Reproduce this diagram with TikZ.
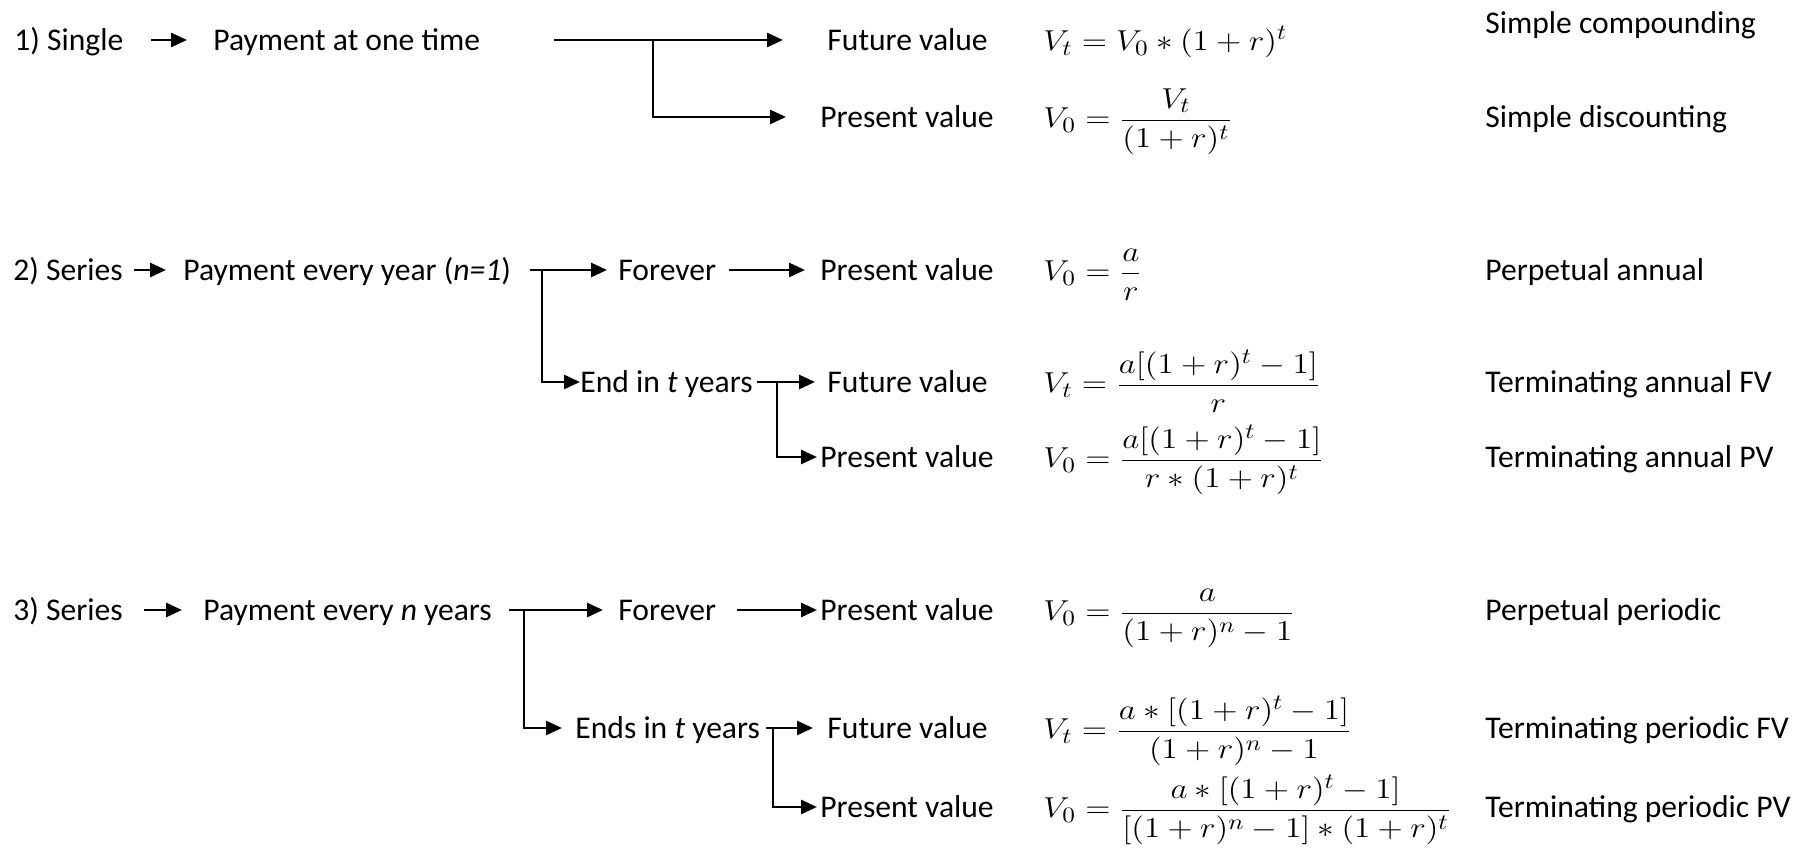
\documentclass[tikz,border=0pt]{standalone}
\usepackage{amsmath}
\usepackage{graphicx}
\usepackage[no-math]{fontspec}
\setmainfont{Carlito}
\usetikzlibrary{arrows.meta}

% wide formulas
\newcommand{\eqbox}[1]{\scalebox{1.15}[1]{$\displaystyle #1$}}

\begin{document}
\begin{tikzpicture}[
  x=0.5pt, y=-0.5pt,
  txt/.style={anchor=west, inner sep=0pt, text height=13.4pt, text depth=2.4pt,
              font=\fontsize{15.8}{19}\selectfont},
  eq/.style={anchor=base west, inner sep=0pt, font=\fontsize{15}{18}\selectfont},
  arr/.style={-{Triangle[length=8pt, width=7pt]}, line width=1.4pt}
]
\useasboundingbox (0,0) rectangle (1801,849);

% 1) single payment
\node[txt] (single) at (14,40) {1) Single};
\node[txt] (pay1) at (213,40) {Payment at one time};
\node[txt] (fv1) at (827,40) {Future value};
\node[txt] (pv1) at (820,117) {Present value};
\node[eq] (eqfv1) at (1043,51) {\eqbox{V_t = V_0 * (1+r)^t}};
\node[eq] (eqpv1) at (1043,128) {\eqbox{V_0 = \frac{V_t}{(1+r)^t}}};
\node[txt] (nmfv1) at (1485,23) {Simple compounding};
\node[txt] (nmpv1) at (1485,117) {Simple discounting};
\coordinate (s1) at (554,40);
\coordinate (j1) at (653,40);

% 2) series, every year
\node[txt] (series2) at (13,270) {2) Series};
\node[txt] (pay2) at (183,270) {Payment every year (\textit{n=1})};
\node[txt] (for2) at (618,270) {Forever};
\node[txt] (pp2) at (820,270) {Present value};
\node[txt] (end2) at (580,382) {End in \textit{t} years};
\node[txt] (fv2) at (827,382) {Future value};
\node[txt] (pv2) at (820,457) {Present value};
\node[eq] (eqpp2) at (1043,281) {\eqbox{V_0 = \frac{a}{r}}};
\node[eq] (eqfv2) at (1043,393) {\eqbox{V_t = \frac{a[(1+r)^t - 1]}{r}}};
\node[eq] (eqpv2) at (1043,468) {\eqbox{V_0 = \frac{a[(1+r)^t - 1]}{r * (1+r)^t}}};
\node[txt] (nmpp2) at (1485,270) {Perpetual annual};
\node[txt] (nmfv2) at (1485,382) {Terminating annual FV};
\node[txt] (nmpv2) at (1485,457) {Terminating annual PV};
\coordinate (s2) at (530,270);
\coordinate (j2) at (542,270);
\coordinate (j2b) at (777,382);

% 3) series, every n years
\node[txt] (series3) at (13,610) {3) Series};
\node[txt] (pay3) at (203,610) {Payment every \textit{n} years};
\node[txt] (for3) at (618,610) {Forever};
\node[txt] (pp3) at (820,610) {Present value};
\node[txt] (end3) at (575,728) {Ends in \textit{t} years};
\node[txt] (fv3) at (827,728) {Future value};
\node[txt] (pv3) at (820,807) {Present value};
\node[eq] (eqpp3) at (1043,621) {\eqbox{V_0 = \frac{a}{(1+r)^n - 1}}};
\node[eq] (eqfv3) at (1043,739) {\eqbox{V_t = \frac{a * [(1+r)^t - 1]}{(1+r)^n - 1}}};
\node[eq] (eqpv3) at (1043,818) {\eqbox{V_0 = \frac{a * [(1+r)^t - 1]}{[(1+r)^n - 1] * (1+r)^t}}};
\node[txt] (nmpp3) at (1485,610) {Perpetual periodic};
\node[txt] (nmfv3) at (1485,728) {Terminating periodic FV};
\node[txt] (nmpv3) at (1485,807) {Terminating periodic PV};
\coordinate (s3) at (509,610);
\coordinate (j3) at (524,610);
\coordinate (j3b) at (773,728);

% connectors
\draw[arr, shorten <=13.5pt, shorten >=13pt] (single.east) -- (pay1.west);
\draw[arr, shorten >=22pt] (s1) -- (fv1.west);
\draw[arr, shorten >=17pt] (j1) |- (pv1.west);

\draw[arr, shorten <=5.5pt, shorten >=8.5pt] (series2.east) -- (pay2.west);
\draw[arr, shorten >=5.5pt] (s2) -- (for2.west);
\draw[arr] (j2) |- (end2.west);
\draw[arr, shorten <=6.5pt, shorten >=7.5pt] (for2.east) -- (pp2.west);
\draw[arr, shorten <=2pt, shorten >=6pt] (end2.east) -- (fv2.west);
\draw[arr, shorten >=1.5pt] (j2b) |- (pv2.west);

\draw[arr, shorten <=10.5pt, shorten >=10.5pt] (series3.east) -- (pay3.west);
\draw[arr, shorten >=7.5pt] (s3) -- (for3.west);
\draw[arr, shorten >=6.5pt] (j3) |- (end3.west);
\draw[arr, shorten <=10.5pt, shorten >=1.5pt] (for3.east) -- (pp3.west);
\draw[arr, shorten <=3pt, shorten >=7pt] (end3.east) -- (fv3.west);
\draw[arr, shorten >=1.5pt] (j3b) |- (pv3.west);
\end{tikzpicture}
\end{document}
